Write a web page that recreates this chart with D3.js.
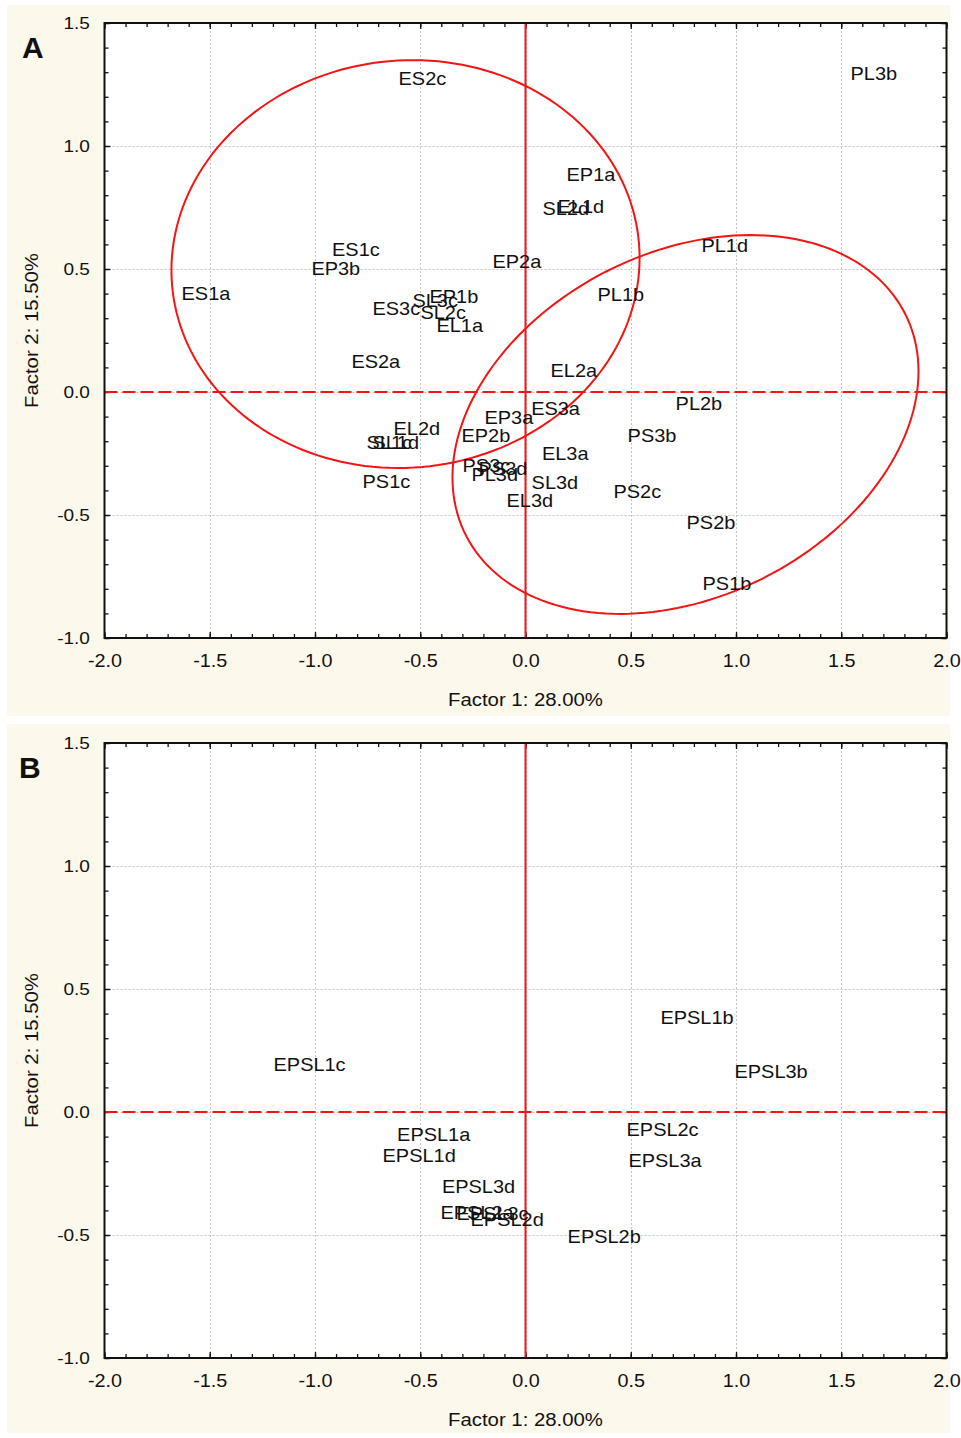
<!DOCTYPE html>
<html>
<head>
<meta charset="utf-8">
<script src="https://cdn.jsdelivr.net/npm/d3@7"></script>
<style>
  body { margin: 0; background: #ffffff; }
  svg { display: block; }
  text { font-family: "Liberation Sans", Arial, sans-serif; fill: #111; }
</style>
</head>
<body>
<svg id="chart" width="961" height="1438"></svg>
<script>
// Axis ticks and titles
const xTicks = [-2.0, -1.5, -1.0, -0.5, 0.0, 0.5, 1.0, 1.5, 2.0];
const yTicks = [-1.0, -0.5, 0.0, 0.5, 1.0, 1.5];
const xTitle = "Factor 1: 28.00%";
const yTitle = "Factor 2: 15.50%";

// Panel A: sample scores on factors 1 and 2
const labelsA = ["ES2c", "PL3b", "EP1a", "SL2d", "EL1d", "PL1d", "EP2a", "PL1b", "ES1c", "EP3b",
  "ES1a", "ES3c", "SL3c", "EP1b", "SL2c", "EL1a", "ES2a", "EL2a", "ES3a", "EP3a",
  "PL2b", "EL2d", "EP2b", "PS3b", "SL1c", "SL1d", "EL3a", "PS3c", "PS3d", "PL3d",
  "SL3d", "PS1c", "PS2c", "EL3d", "PS2b", "PS1b"];
const factor1A = [-0.603, 1.544, 0.195, 0.081, 0.152, 0.836, -0.157, 0.342, -0.919, -1.017,
  -1.634, -0.727, -0.537, -0.456, -0.499, -0.423, -0.827, 0.119, 0.027, -0.195,
  0.713, -0.627, -0.304, 0.485, -0.755, -0.727, 0.078, -0.299, -0.223, -0.257,
  0.029, -0.774, 0.418, -0.090, 0.765, 0.841];
const factor2A = [1.276, 1.297, 0.886, 0.748, 0.756, 0.598, 0.533, 0.398, 0.581, 0.504,
  0.402, 0.341, 0.374, 0.390, 0.325, 0.272, 0.126, 0.089, -0.065, -0.102,
  -0.045, -0.146, -0.175, -0.175, -0.203, -0.203, -0.248, -0.297, -0.309, -0.333,
  -0.366, -0.362, -0.402, -0.439, -0.528, -0.776];

// Panel A: group ellipses (centre, half extents along each factor, correlation)
const ellipseCx = [-0.570, 0.760];
const ellipseCy = [0.520, -0.132];
const ellipseRx = [1.112, 1.107];
const ellipseRy = [0.829, 0.770];
const ellipseRho = [0.03, 0.28];

// Panel B: combined samples
const labelsB = ["EPSL1c", "EPSL1b", "EPSL3b", "EPSL2c", "EPSL3a", "EPSL1a", "EPSL1d",
  "EPSL3d", "EPSL2a", "EPSL3c", "EPSL2d", "EPSL2b"];
const factor1B = [-1.197, 0.641, 0.993, 0.480, 0.489, -0.610, -0.679,
  -0.397, -0.404, -0.328, -0.261, 0.200];
const factor2B = [0.193, 0.384, 0.165, -0.071, -0.197, -0.091, -0.177,
  -0.303, -0.409, -0.413, -0.437, -0.506];

const svg = d3.select("#chart");
const plotLeft = 104.5, plotRight = 946.5;
const cream = "#fdf8ec";
const red = "#f41414";
const fmt = d => d.toFixed(1);

const panels = [
  { letter: "A", boxTop: 5, boxBottom: 716, top: 23, bottom: 638, letterX: 22, letterY: 58,
    labels: labelsA, f1: factor1A, f2: factor2A, ellipses: true },
  { letter: "B", boxTop: 724, boxBottom: 1433, top: 743, bottom: 1358, letterX: 19, letterY: 778,
    labels: labelsB, f1: factor1B, f2: factor2B, ellipses: false }
];

const minorX = d3.range(-20, 21).map(i => i / 10);
const minorY = d3.range(-10, 16).map(i => i / 10);

panels.forEach(p => {
  const g = svg.append("g");

  // panel background
  g.append("rect").attr("x", 7).attr("y", p.boxTop)
    .attr("width", 943).attr("height", p.boxBottom - p.boxTop)
    .attr("fill", cream);

  const x = d3.scaleLinear().domain([-2, 2]).range([plotLeft, plotRight]);
  const y = d3.scaleLinear().domain([-1, 1.5]).range([p.bottom, p.top]);
  const w = plotRight - plotLeft, h = p.bottom - p.top;

  g.append("rect").attr("x", plotLeft).attr("y", p.top)
    .attr("width", w).attr("height", h).attr("fill", "#ffffff");

  // dotted grid
  const grid = g.append("g").attr("stroke", "#c4c4c4").attr("stroke-width", 1)
    .attr("stroke-dasharray", "2,2");
  grid.selectAll("line.gx").data(xTicks.slice(1, -1)).join("line")
    .attr("x1", d => Math.round(x(d)) + 0.5).attr("x2", d => Math.round(x(d)) + 0.5)
    .attr("y1", p.top).attr("y2", p.bottom);
  grid.selectAll("line.gy").data(yTicks.slice(1, -1)).join("line")
    .attr("y1", d => Math.round(y(d)) + 0.5).attr("y2", d => Math.round(y(d)) + 0.5)
    .attr("x1", plotLeft).attr("x2", plotRight);

  // inward ticks on all four sides
  const tickStyle = sel => {
    sel.select(".domain").remove();
    sel.selectAll(".tick line").attr("stroke", "#111").attr("stroke-width", 1.3);
    sel.selectAll(".tick text").remove();
  };
  [[d3.axisBottom, p.bottom], [d3.axisTop, p.top]].forEach(([ax, pos]) => {
    g.append("g").attr("transform", `translate(0,${pos})`)
      .call(ax(x).tickValues(minorX).tickSize(-4)).call(tickStyle);
    g.append("g").attr("transform", `translate(0,${pos})`)
      .call(ax(x).tickValues(xTicks).tickSize(-6)).call(tickStyle);
  });
  [[d3.axisLeft, plotLeft], [d3.axisRight, plotRight]].forEach(([ax, pos]) => {
    g.append("g").attr("transform", `translate(${pos},0)`)
      .call(ax(y).tickValues(minorY).tickSize(-4)).call(tickStyle);
    g.append("g").attr("transform", `translate(${pos},0)`)
      .call(ax(y).tickValues(yTicks).tickSize(-6)).call(tickStyle);
  });

  // tick labels
  const xa = g.append("g").attr("transform", `translate(0,${p.bottom})`)
    .call(d3.axisBottom(x).tickValues(xTicks).tickFormat(fmt).tickSize(0).tickPadding(16));
  xa.select(".domain").remove();
  xa.selectAll("text").attr("font-size", 18).attr("font-family", "Liberation Sans, Arial, sans-serif")
    .attr("fill", "#111").attr("transform", "scale(1.1,1)");

  const ya = g.append("g").attr("transform", `translate(${plotLeft},0)`)
    .call(d3.axisLeft(y).tickValues(yTicks).tickFormat(fmt).tickSize(0).tickPadding(13));
  ya.select(".domain").remove();
  ya.selectAll("text").attr("font-size", 17).attr("font-family", "Liberation Sans, Arial, sans-serif")
    .attr("fill", "#111").attr("transform", "scale(1.12,1)");

  // zero reference lines
  g.append("line").attr("x1", x(0)).attr("x2", x(0)).attr("y1", p.top).attr("y2", p.bottom)
    .attr("stroke", red).attr("stroke-width", 2);
  g.append("line").attr("x1", plotLeft).attr("x2", plotRight).attr("y1", y(0)).attr("y2", y(0))
    .attr("stroke", red).attr("stroke-width", 2).attr("stroke-dasharray", "13,5");

  // group ellipses
  if (p.ellipses) {
    const steps = d3.range(0, 361, 2).map(a => a * Math.PI / 180);
    const line = d3.line().x(d => x(d[0])).y(d => y(d[1])).curve(d3.curveLinearClosed);
    ellipseCx.forEach((cx, i) => {
      const cy = ellipseCy[i], rx = ellipseRx[i], ry = ellipseRy[i], r = ellipseRho[i];
      const pts = steps.map(t => [cx + rx * Math.cos(t),
        cy + ry * (r * Math.cos(t) + Math.sqrt(1 - r * r) * Math.sin(t))]);
      g.append("path").attr("d", line(pts)).attr("fill", "none")
        .attr("stroke", red).attr("stroke-width", 2);
    });
  }

  // plot frame
  g.append("rect").attr("x", plotLeft).attr("y", p.top).attr("width", w).attr("height", h)
    .attr("fill", "none").attr("stroke", "#111").attr("stroke-width", 2);

  // sample labels
  g.append("g").selectAll("text").data(p.labels).join("text")
    .attr("transform", (d, i) => `translate(${x(p.f1[i])},${y(p.f2[i])}) scale(1.05,1)`)
    .attr("dy", "0.35em").attr("font-size", 19).text(d => d);

  // axis titles
  g.append("text").attr("transform", `translate(${x(0)},${p.bottom + 68}) scale(1.1,1)`)
    .attr("text-anchor", "middle").attr("font-size", 18.5).text(xTitle);
  g.append("text").attr("transform", `translate(38,${(p.top + p.bottom) / 2}) rotate(-90) scale(1.1,1)`)
    .attr("text-anchor", "middle").attr("font-size", 18.5).text(yTitle);

  // panel letter
  g.append("text").attr("x", p.letterX).attr("y", p.letterY)
    .attr("font-size", 30).attr("font-weight", "bold").text(p.letter);
});
</script>
</body>
</html>
